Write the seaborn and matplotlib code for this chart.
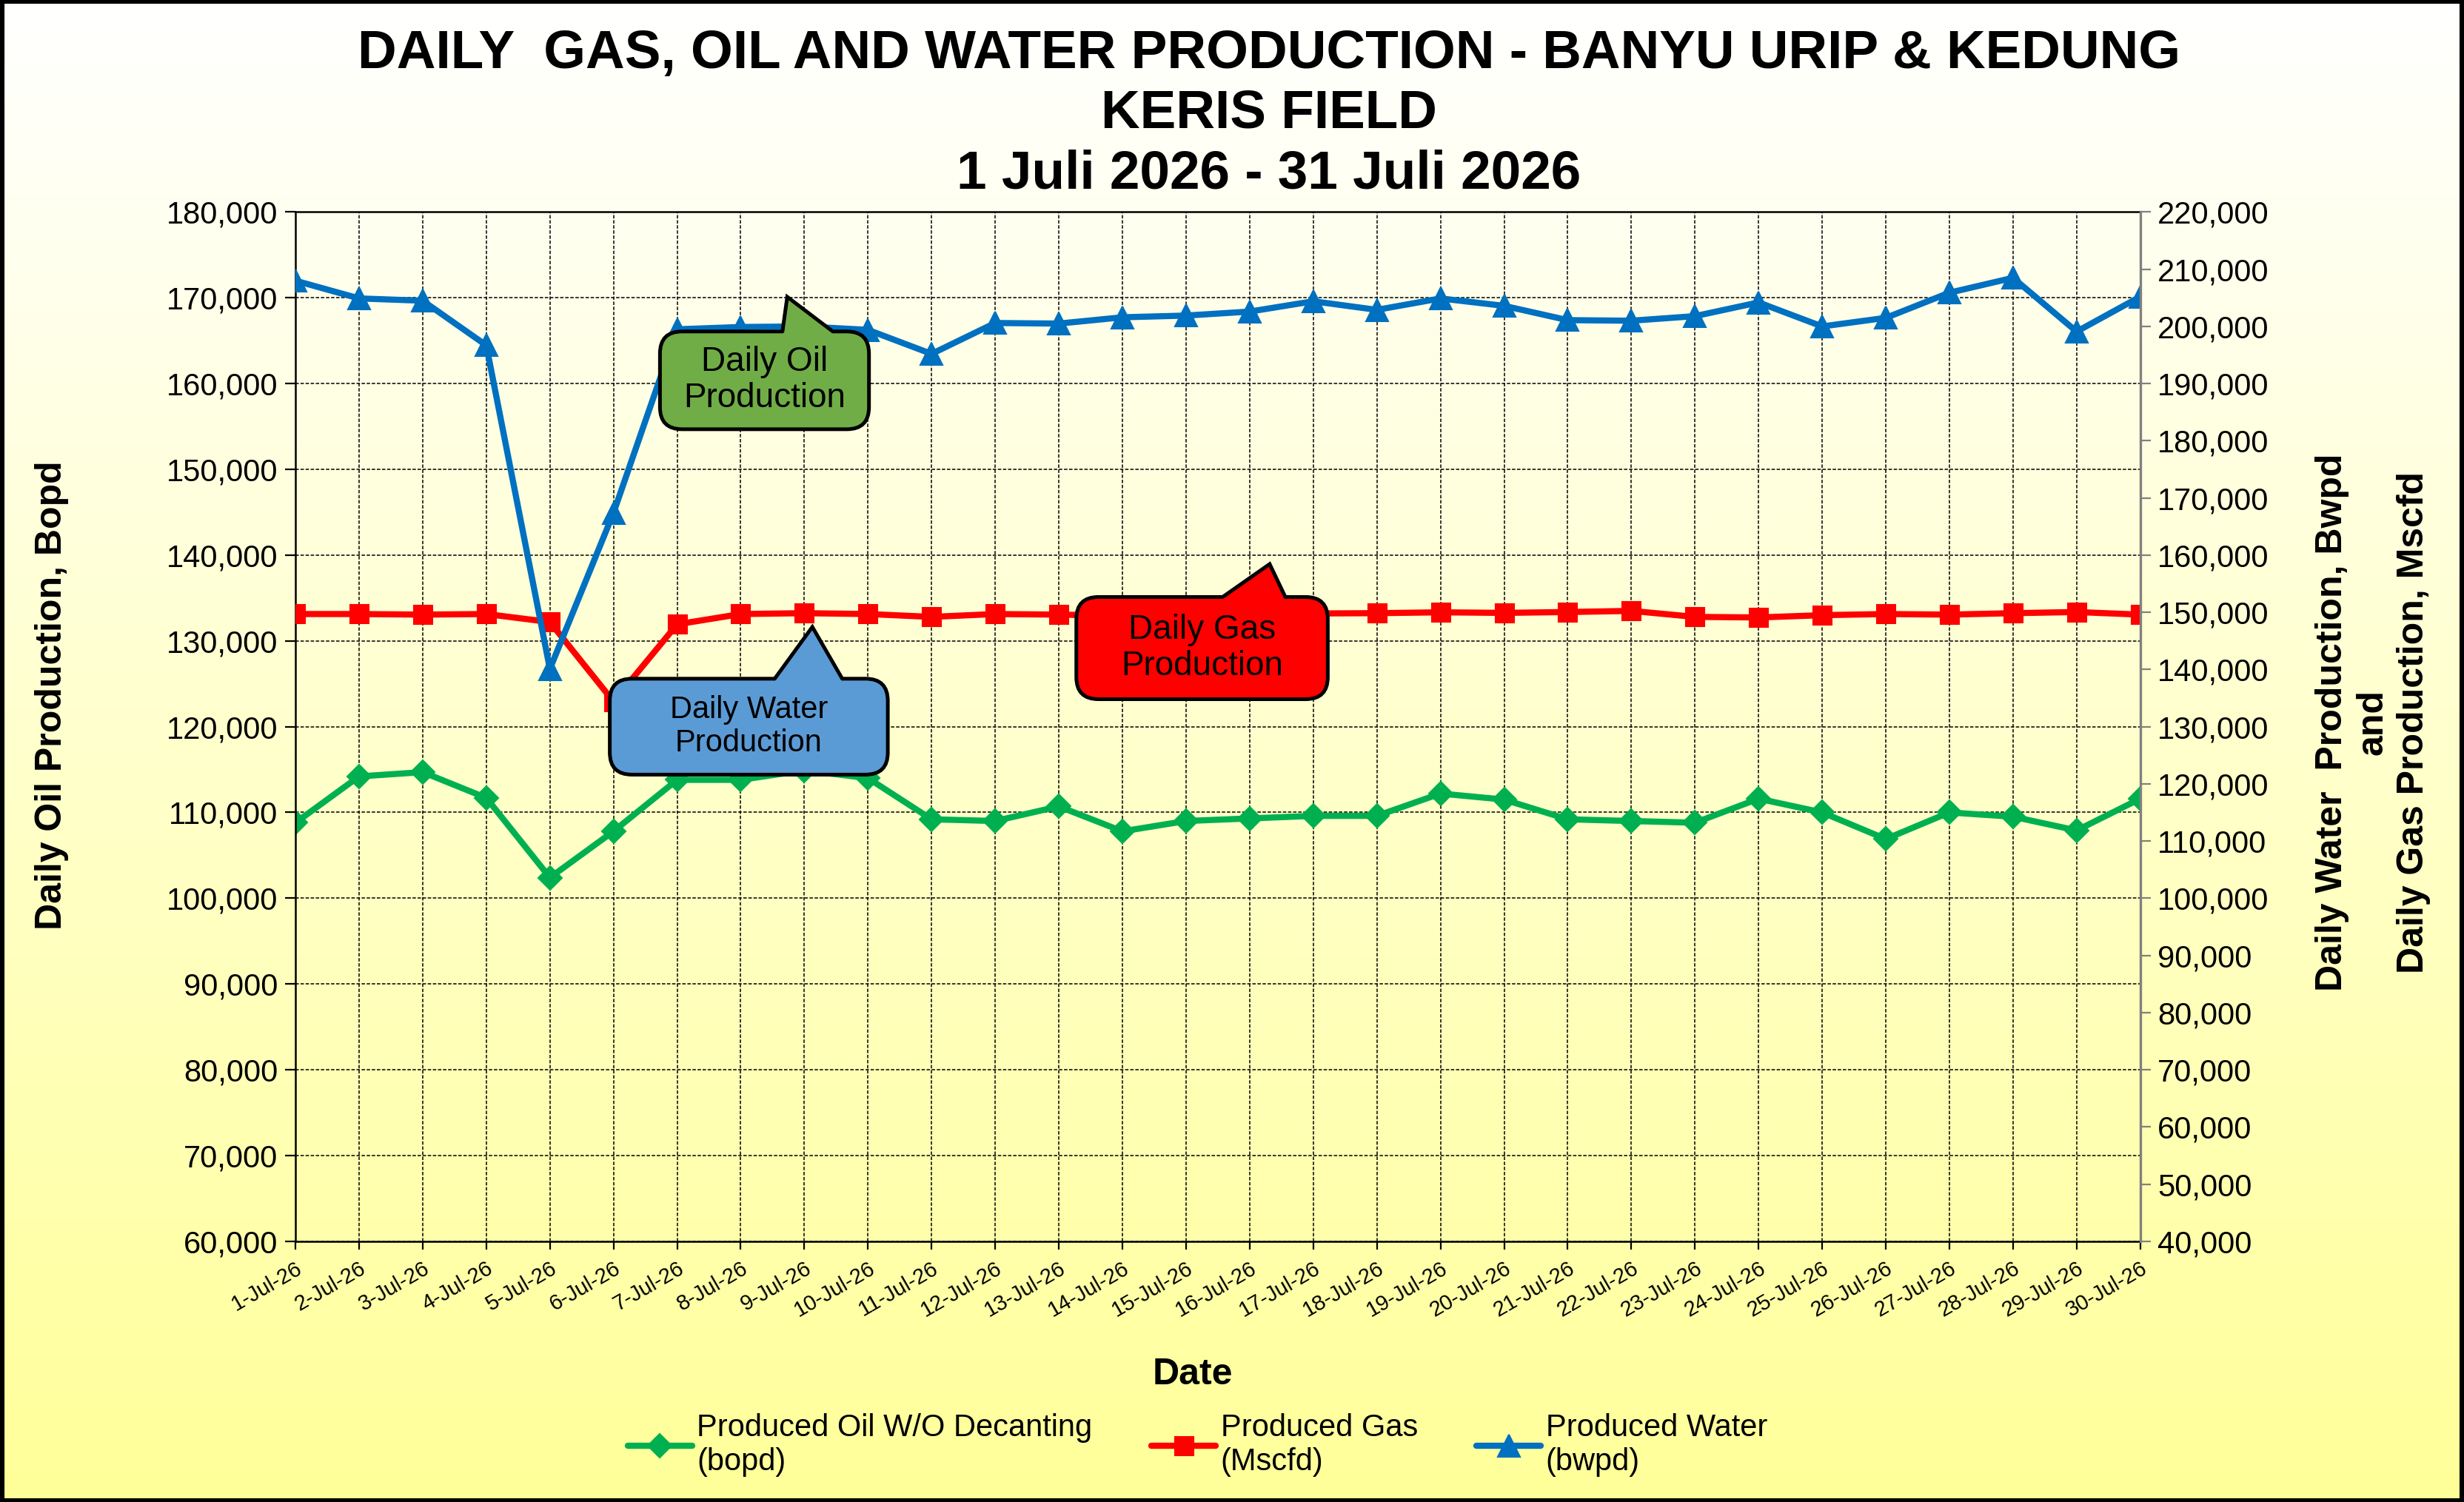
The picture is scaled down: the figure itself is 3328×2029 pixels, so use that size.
import numpy as np
import pandas as pd
import seaborn as sns
import matplotlib.pyplot as plt
from matplotlib.colors import LinearSegmentedColormap
from matplotlib.patches import FancyBboxPatch, Polygon, Rectangle
from matplotlib.ticker import MultipleLocator, FuncFormatter

# values
dates = ['{}-Jul-26'.format(d) for d in range(1, 31)]
oil = [108800, 114200, 114700, 111700, 102400, 107800, 113800, 113800, 114900, 114000,
       109200, 109000, 110700, 107800, 109000, 109300, 109600, 109600, 112200, 111500,
       109200, 109000, 108800, 111600, 110000, 106900, 110000, 109500, 107900, 111600]
gas = [149700, 149700, 149600, 149700, 148300, 134400, 147900, 149700, 149850, 149700,
       149200, 149700, 149600, 149400, 149600, 149700, 149800, 149850, 150000, 149900,
       150050, 150250, 149200, 149100, 149500, 149700, 149600, 149850, 150050, 149600]
water = [208000, 204900, 204500, 196700, 140100, 167400, 199500, 199900, 200000, 199400,
         195200, 200600, 200500, 201600, 201900, 202600, 204400, 202900, 204900, 203600,
         201100, 201000, 201800, 204200, 200000, 201500, 205900, 208500, 199100, 205200]

oil_label = 'Produced Oil W/O Decanting\n(bopd)'
gas_label = 'Produced Gas\n(Mscfd)'
water_label = 'Produced Water\n(bwpd)'

sns.set_style('ticks')
plt.rcParams['font.family'] = ['Liberation Sans', 'DejaVu Sans']
plt.rcParams['text.color'] = 'black'
plt.rcParams['xtick.labelcolor'] = 'black'
plt.rcParams['ytick.labelcolor'] = 'black'

df = pd.DataFrame({'pos': np.arange(len(dates)), 'oil': oil, 'gas': gas, 'water': water})

fig = plt.figure(figsize=(16.64, 10.145), dpi=200)

# background gradient, white at the top to pale yellow at the bottom
bg = fig.add_axes([0, 0, 1, 1], zorder=-10)
grad = np.linspace(0, 1, 256).reshape(-1, 1)
bg_cmap = LinearSegmentedColormap.from_list('bg', ['#FFFFFF', '#FFFF99'])
bg.imshow(grad, aspect='auto', cmap=bg_cmap, extent=[0, 1, 0, 1], origin='upper')
bg.axis('off')
fig.patches.append(Rectangle((0.001, 0.001), 0.998, 0.998, transform=fig.transFigure,
                             fill=False, edgecolor='black', linewidth=2.2))

ax = fig.add_axes([0.1199, 0.1736, 0.7487, 0.6852])
ax.set_facecolor('none')
ax2 = ax.twinx()

sns.lineplot(data=df, x='pos', y='oil', ax=ax, color='#00B050', linewidth=3,
             marker='D', markersize=8, markeredgecolor='#00B050', legend=False)
sns.lineplot(data=df, x='pos', y='gas', ax=ax2, color='#FF0000', linewidth=3,
             marker='s', markersize=9, markeredgecolor='#FF0000', legend=False)
sns.lineplot(data=df, x='pos', y='water', ax=ax2, color='#0070C0', linewidth=3,
             marker='^', markersize=10.5, markeredgecolor='#0070C0', legend=False)

ax.set_xlim(0, len(dates) - 1)
ax.set_ylim(60000, 180000)
ax2.set_ylim(40000, 220000)
ax.yaxis.set_major_locator(MultipleLocator(10000))
ax2.yaxis.set_major_locator(MultipleLocator(10000))
fmt = FuncFormatter(lambda v, p: '{:,.0f}'.format(v))
ax.yaxis.set_major_formatter(fmt)
ax2.yaxis.set_major_formatter(fmt)

ax.set_xticks(df['pos'])
ax.set_xticklabels(dates, rotation=30, ha='right', rotation_mode='anchor', fontsize=10.5)
ax.tick_params(axis='x', length=4, width=0.8, color='black', labelcolor='black', pad=4)
ax.tick_params(axis='y', labelsize=15, length=5, width=0.8, color='black', labelcolor='black')
ax2.tick_params(axis='y', labelsize=15, length=5, width=0.8, color='#808080', labelcolor='black')

ax.grid(True, linestyle=(0, (3, 1.5)), color='black', linewidth=0.55)
ax2.grid(False)
for s in ['left', 'bottom', 'top']:
    ax.spines[s].set_color('black')
    ax.spines[s].set_linewidth(0.9)
ax.spines['right'].set_visible(False)
for s in ['left', 'bottom', 'top']:
    ax2.spines[s].set_visible(False)
ax2.spines['right'].set_color('#808080')
ax2.spines['right'].set_linewidth(1.2)
ax.set_xlabel('')
ax.set_ylabel('')
ax2.set_ylabel('')

fig.text(0.484, 0.085, 'Date', ha='center', va='center', fontsize=18, fontweight='bold')
fig.text(0.021, 0.537, 'Daily Oil Production, Bopd', ha='center', va='center',
         rotation=90, fontsize=18, fontweight='bold')
fig.text(0.963, 0.519, 'Daily Water  Production, Bwpd\nand\nDaily Gas Production, Mscfd',
         ha='center', va='center', rotation=90, multialignment='center',
         fontsize=18, fontweight='bold', linespacing=1.25)

fig.text(0.515, 0.981, 'DAILY  GAS, OIL AND WATER PRODUCTION - BANYU URIP & KEDUNG\nKERIS FIELD\n1 Juli 2026 - 31 Juli 2026',
         ha='center', va='top', fontsize=26.3, fontweight='bold', linespacing=1.25)


def callout(axis, box, base, tip, text, color, fs):
    x0, y0, x1, y1 = box
    patch = FancyBboxPatch((x0, y0), x1 - x0, y1 - y0,
                           boxstyle='round,pad=0,rounding_size=0.012', mutation_aspect=1.79,
                           transform=axis.transAxes, facecolor=color, edgecolor='black',
                           linewidth=1.8, zorder=20, clip_on=False)
    axis.add_patch(patch)
    edge = y1
    eps = 0.006
    pts = [(base[0], edge - eps), (base[0], edge), tip, (base[1], edge), (base[1], edge - eps)]
    axis.add_patch(Polygon(pts, closed=True, transform=axis.transAxes, facecolor=color,
                           edgecolor='none', zorder=21, clip_on=False))
    axis.plot([base[0], tip[0], base[1]], [edge, tip[1], edge], color='black', linewidth=1.8,
              transform=axis.transAxes, zorder=22, clip_on=False, solid_joinstyle='miter')
    axis.text((x0 + x1) / 2, (y0 + y1) / 2, text, ha='center', va='center', fontsize=fs,
              transform=axis.transAxes, zorder=23, linespacing=1.15)


callout(ax2, (0.1976, 0.789, 0.3109, 0.884), (0.2640, 0.2913), (0.2666, 0.9176),
        'Daily Oil\nProduction', '#70AD47', 16.5)
callout(ax2, (0.1704, 0.4534, 0.3211, 0.5466), (0.2598, 0.2964), (0.2802, 0.5969),
        'Daily Water\nProduction', '#5B9BD5', 15)
callout(ax2, (0.4233, 0.5267, 0.5596, 0.626), (0.5026, 0.5366), (0.5281, 0.658),
        'Daily Gas\nProduction', '#FF0000', 16.5)

handles = [ax.lines[0], ax2.lines[0], ax2.lines[1]]
fig.legend(handles, [oil_label, gas_label, water_label], loc='center',
           bbox_to_anchor=(0.486, 0.038), ncol=3, frameon=False, fontsize=15,
           handlelength=2.1, handletextpad=0.15, columnspacing=1.9)

fig.savefig('out.png', dpi=200)
